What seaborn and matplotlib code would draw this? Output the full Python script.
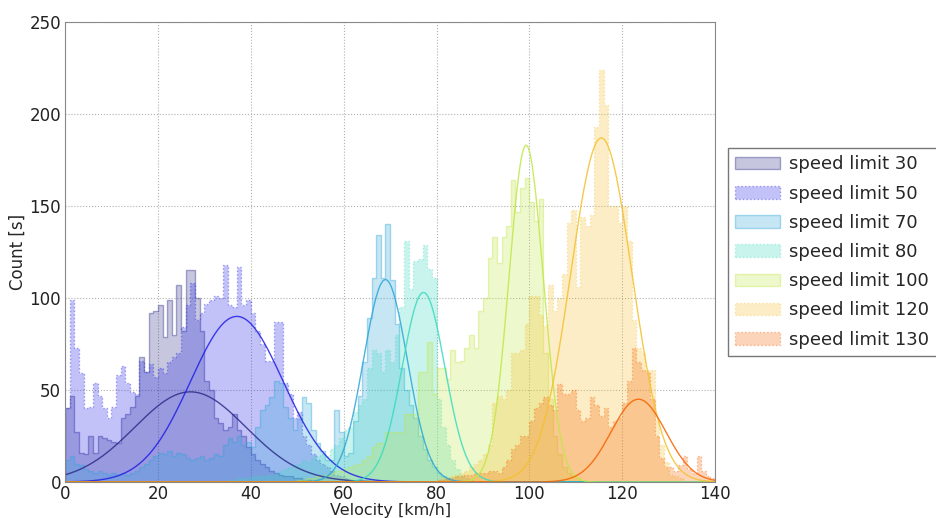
import numpy as np
import pandas as pd
import matplotlib
matplotlib.use("Agg")
import matplotlib.pyplot as plt
import seaborn as sns
from matplotlib.colors import to_rgba

sns.set_style("white")
plt.rcParams['font.family'] = ['DejaVu Sans']

# series labels and look
labels = ["speed limit 30", "speed limit 50", "speed limit 70", "speed limit 80",
          "speed limit 100", "speed limit 120", "speed limit 130"]
colors = ["#2d2d8a", "#2020e6", "#2da5da", "#3adac0", "#c0e848", "#f5c02d", "#f56200"]
edge_styles = ["-", ":", "-", ":", "-", ":", ":"]

# histogram counts, 1 km/h bins, first bin given by start
start_30 = 0
counts_30 = [40, 47, 27, 16, 15, 25, 16, 25, 24, 23, 22, 21, 35, 37, 41, 47, 68, 60,
             92, 93, 96, 79, 99, 80, 107, 82, 115, 115, 100, 82, 55, 50, 35, 32, 28,
             30, 37, 28, 25, 19, 15, 12, 10, 8, 6, 5, 4, 3, 3, 2, 2, 1, 1]
start_50 = 0
counts_50 = [40, 99, 73, 59, 40, 41, 54, 47, 40, 35, 41, 58, 63, 54, 49, 48, 66, 60,
             64, 57, 62, 59, 65, 68, 70, 84, 96, 108, 88, 92, 97, 99, 101, 100, 118,
             96, 95, 117, 96, 99, 92, 82, 75, 66, 66, 87, 87, 54, 48, 35, 38, 25, 20,
             15, 12, 10, 8, 6, 4, 3, 2]
start_70 = 0
counts_70 = [12, 14, 10, 9, 7, 6, 5, 6, 5, 4, 5, 4, 5, 4, 5, 6, 8, 10, 12, 14, 16,
             15, 17, 14, 16, 15, 13, 12, 13, 14, 12, 13, 15, 14, 20, 24, 22, 25, 20,
             22, 19, 30, 39, 42, 46, 55, 54, 41, 35, 28, 34, 46, 43, 28, 21, 17, 12,
             12, 39, 27, 14, 16, 33, 47, 65, 89, 111, 134, 111, 140, 110, 86, 62, 50,
             42, 35, 25, 18, 12, 8, 5, 3, 2]
start_80 = 35
counts_80 = [1, 1, 2, 2, 2, 3, 3, 3, 4, 4, 5, 6, 7, 8, 9, 10, 12, 11, 13, 14, 15, 14,
             18, 20, 24, 28, 30, 38, 42, 45, 62, 72, 70, 60, 72, 65, 80, 95, 131, 105,
             120, 121, 129, 116, 111, 45, 30, 20, 12, 7, 4, 2, 1]
start_100 = 50
counts_100 = [1, 1, 2, 2, 3, 3, 4, 5, 6, 6, 7, 8, 9, 10, 12, 14, 19, 21, 21, 27, 27,
              27, 27, 37, 37, 37, 60, 60, 76, 48, 62, 62, 56, 72, 65, 66, 73, 80, 73,
              93, 100, 122, 133, 119, 133, 139, 164, 147, 160, 165, 152, 142, 154, 70,
              45, 25, 15, 8, 5, 3, 2]
start_120 = 80
counts_120 = [1, 2, 2, 3, 4, 5, 6, 8, 10, 12, 15, 20, 43, 47, 45, 50, 70, 70, 72, 86,
              101, 101, 91, 85, 107, 93, 100, 113, 141, 148, 106, 144, 139, 145, 193,
              224, 205, 150, 150, 141, 150, 131, 88, 73, 70, 61, 61, 33, 20, 11, 4, 3, 2]
start_130 = 80
counts_130 = [1, 1, 2, 2, 3, 3, 4, 4, 5, 5, 5, 6, 6, 5, 8, 12, 18, 20, 25, 25, 33, 40,
              43, 46, 42, 39, 53, 48, 48, 50, 39, 33, 35, 46, 42, 36, 40, 30, 33, 35,
              43, 55, 73, 65, 61, 60, 45, 25, 13, 8, 8, 6, 9, 14, 7, 5, 14, 6, 3, 2]

# fitted normal curves: mean, sigma, peak height
fit_mu = [27.0, 37.0, 69.0, 77.2, 99.3, 115.5, 123.5]
fit_sigma = [12.0, 10.0, 4.7, 4.6, 3.7, 6.6, 5.9]
fit_peak = [49, 90, 110, 103, 183, 187, 45]

starts = [start_30, start_50, start_70, start_80, start_100, start_120, start_130]
counts = [counts_30, counts_50, counts_70, counts_80, counts_100, counts_120, counts_130]

rows = []
for lab, s, c in zip(labels, starts, counts):
    for i, n in enumerate(c):
        rows.append({"velocity": s + i + 0.5, "count": n, "limit": lab})
df = pd.DataFrame(rows)

fig = plt.figure(figsize=(9.36, 5.18), dpi=100)
ax = fig.add_axes([0.0695, 0.0695, 0.6945, 0.888])

for lab, col, ls in zip(labels, colors, edge_styles):
    sns.histplot(data=df[df["limit"] == lab], x="velocity", weights="count",
                 binwidth=1, binrange=(0, 140),
                 element="step", fill=True, facecolor=to_rgba(col, 0.27),
                 edgecolor=to_rgba(col, 0.4), linestyle=ls, linewidth=1.0,
                 label=lab, ax=ax)

xs = np.linspace(0, 140, 700)
for col, mu, sd, pk in zip(colors, fit_mu, fit_sigma, fit_peak):
    sns.lineplot(x=xs, y=pk * np.exp(-0.5 * ((xs - mu) / sd) ** 2), color=col,
                 linewidth=1.0, alpha=0.85, ax=ax)

ax.set_xlim(0, 140)
ax.set_ylim(0, 250)
ax.set_xticks(np.arange(0, 141, 20))
ax.set_yticks(np.arange(0, 251, 50))
ax.grid(True, color="#b0b0b0", linestyle=":", linewidth=0.8)
ax.tick_params(labelsize=12, length=0, colors="#222222", pad=3)
ax.tick_params(axis="x", pad=2)
for sp in ax.spines.values():
    sp.set_color("#888888")
ax.set_xlabel("Velocity [km/h]", fontsize=11.5, labelpad=0)
ax.set_ylabel("Count [s]", fontsize=12, labelpad=2)

ax.legend(loc="center left", bbox_to_anchor=(1.02, 0.5), fontsize=13, frameon=True,
          fancybox=False, edgecolor="#555555", handlelength=2.5, handletextpad=0.5,
          labelspacing=0.62, borderaxespad=0)

fig.savefig("out.png", dpi=100)
